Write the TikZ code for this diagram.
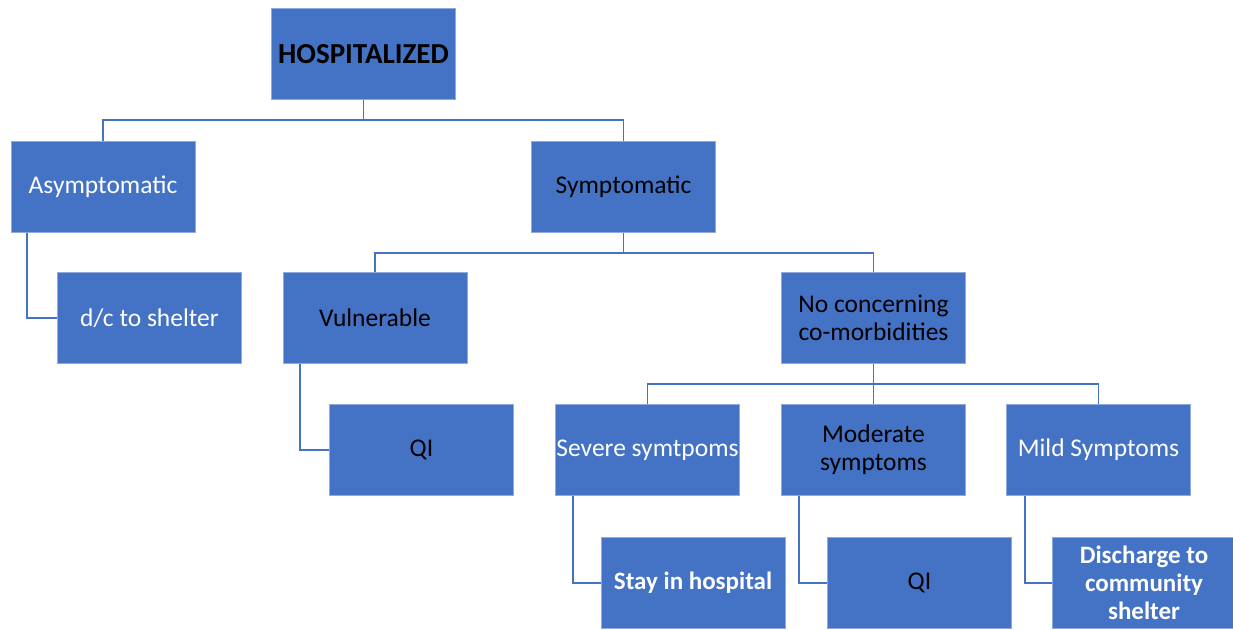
\documentclass[tikz,border=0pt]{standalone}
\usepackage{fontspec}
\setmainfont{Carlito}
\definecolor{boxblue}{HTML}{4472C4}
\definecolor{edgeblue}{HTML}{8FAADC}
\begin{document}
\begin{tikzpicture}[x=1pt,y=-1pt,
  box/.style={rectangle,fill=boxblue,draw=edgeblue,line width=0.6pt,minimum width=184pt,minimum height=91pt,inner sep=1pt,align=center,font=\fontsize{25.5}{28}\selectfont},
  wt/.style={text=white},
  bk/.style={text=black},
  conn/.style={draw=boxblue,line width=1.8pt}]
\useasboundingbox (0,0) rectangle (1233,629);
\node[box,bk,font=\fontsize{29}{30}\selectfont\bfseries] (hosp) at (363.5,54) {HOSPITALIZED};
\node[box,wt] (asym) at (103,187) {Asymptomatic};
\node[box,bk] (sym) at (623.5,187) {Symptomatic};
\node[box,wt] (dc) at (149.5,318) {d/c to shelter};
\node[box,bk] (vul) at (375,318) {Vulnerable};
\node[box,bk] (noc) at (873.5,318) {No concerning\\co-morbidities};
\node[box,bk] (qia) at (421.5,450) {QI};
\node[box,wt] (sev) at (647.5,450) {Severe symtpoms};
\node[box,bk] (mod) at (873.5,450) {Moderate\\symptoms};
\node[box,wt] (mild) at (1098.5,450) {Mild Symptoms};
\node[box,wt,font=\fontsize{25}{28}\selectfont\bfseries] (stay) at (693,583) {Stay in hospital};
\node[box,bk] (qib) at (919.5,583) {QI};
\node[box,wt,font=\fontsize{25}{28}\selectfont\bfseries] (dis) at (1144,583) {Discharge to\\community\\shelter};
% tree connectors
\draw[conn] (hosp.south) -- ++(0,20) -| (asym.north);
\draw[conn] (hosp.south) -- ++(0,20) -| (sym.north);
\draw[conn] (sym.south) -- ++(0,20) -| (vul.north);
\draw[conn] (sym.south) -- ++(0,20) -| (noc.north);
\draw[conn] (noc.south) -- ++(0,20) -| (sev.north);
\draw[conn] (noc.south) -- (mod.north);
\draw[conn] (noc.south) -- ++(0,20) -| (mild.north);
% elbow connectors
\draw[conn] ([xshift=16pt]asym.south west) |- (dc.west);
\draw[conn] ([xshift=17pt]vul.south west) |- (qia.west);
\draw[conn] ([xshift=18pt]sev.south west) |- (stay.west);
\draw[conn] ([xshift=18pt]mod.south west) |- (qib.west);
\draw[conn] ([xshift=19pt]mild.south west) |- (dis.west);
\end{tikzpicture}
\end{document}
